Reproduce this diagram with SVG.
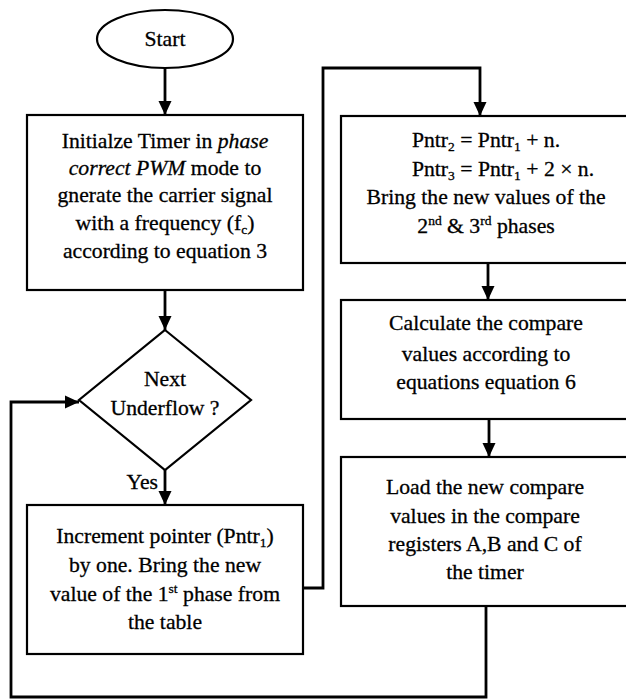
<svg xmlns="http://www.w3.org/2000/svg" width="626" height="699" viewBox="0 0 626 699">
<style>
.node{fill:#fff;stroke:#000;stroke-width:2.2}
text{font-family:'Liberation Serif','Times New Roman',serif;font-size:21.7px;fill:#000;stroke:#000;stroke-width:0.3;text-anchor:middle}
.s{font-size:13.5px}
.i{font-style:italic}
.c{fill:none;stroke:#000;stroke-width:2.8}
</style>
<defs>
<marker id="ah" markerUnits="userSpaceOnUse" markerWidth="16" markerHeight="16" viewBox="0 0 16 16" refX="15" refY="8" orient="auto">
<path d="M1,1.5 L15,8 L1,14.5 Z" fill="#000"/>
</marker>
</defs>
<rect width="626" height="699" fill="#fff"/>
<g id="connectors">
<path class="c" d="M165,68 V115" marker-end="url(#ah)"/>
<path class="c" d="M165,290 V330" marker-end="url(#ah)"/>
<path class="c" d="M165,470 V505" marker-end="url(#ah)"/>
<path class="c" d="M303,588 H323 V68 H480 V116" marker-end="url(#ah)"/>
<path class="c" d="M488,263 V300" marker-end="url(#ah)"/>
<path class="c" d="M489,419 V457" marker-end="url(#ah)"/>
<path class="c" d="M486,606 V697 H11 V402 H79" marker-end="url(#ah)"/>
<text x="158" y="489" style="text-anchor:end">Yes</text>
</g>
<g id="start">
<ellipse class="node" cx="165" cy="39" rx="68" ry="29"/>
<text x="165" y="46">Start</text>
</g>
<g id="init">
<rect class="node" x="27" y="115" width="276" height="175"/>
<text x="165" y="148">Initialze Timer in <tspan class="i">phase</tspan></text>
<text x="165" y="175"><tspan class="i">correct PWM</tspan> mode to</text>
<text x="165" y="202">gnerate the carrier signal</text>
<text x="165" y="230">with a frequency (f<tspan class="s" dy="4">c</tspan><tspan dy="-4">)</tspan></text>
<text x="165" y="258">according to equation 3</text>
</g>
<g id="decision">
<polygon class="node" points="165,330 251,400 165,470 79,400"/>
<text x="165" y="386">Next</text>
<text x="165" y="415">Underflow ?</text>
</g>
<g id="increment">
<rect class="node" x="27" y="505" width="276" height="149"/>
<text x="165" y="543">Increment pointer (Pntr<tspan class="s" dy="4">1</tspan><tspan dy="-4">)</tspan></text>
<text x="165" y="572">by one. Bring the new</text>
<text x="165" y="601">value of the 1<tspan class="s" dy="-8">st</tspan><tspan dy="8"> phase from</tspan></text>
<text x="165" y="629">the table</text>
</g>
<g id="pointers">
<rect class="node" x="341" y="116" width="295" height="147"/>
<text x="486" y="147">Pntr<tspan class="s" dy="4">2</tspan><tspan dy="-4"> = Pntr</tspan><tspan class="s" dy="4">1</tspan><tspan dy="-4"> + n.</tspan></text>
<text x="503" y="176">Pntr<tspan class="s" dy="4">3</tspan><tspan dy="-4"> = Pntr</tspan><tspan class="s" dy="4">1</tspan><tspan dy="-4"> + 2 × n.</tspan></text>
<text x="486" y="204">Bring the new values of the</text>
<text x="486" y="233">2<tspan class="s" dy="-8">nd</tspan><tspan dy="8"> &amp; 3</tspan><tspan class="s" dy="-8">rd</tspan><tspan dy="8"> phases</tspan></text>
</g>
<g id="calculate">
<rect class="node" x="341" y="300" width="295" height="119"/>
<text x="486" y="330">Calculate the compare</text>
<text x="486" y="361">values according to</text>
<text x="486" y="389">equations equation 6</text>
</g>
<g id="load">
<rect class="node" x="341" y="457" width="295" height="149"/>
<text x="485" y="494">Load the new compare</text>
<text x="485" y="523">values in the compare</text>
<text x="485" y="551">registers A,B and C of</text>
<text x="485" y="579">the timer</text>
</g>
</svg>
